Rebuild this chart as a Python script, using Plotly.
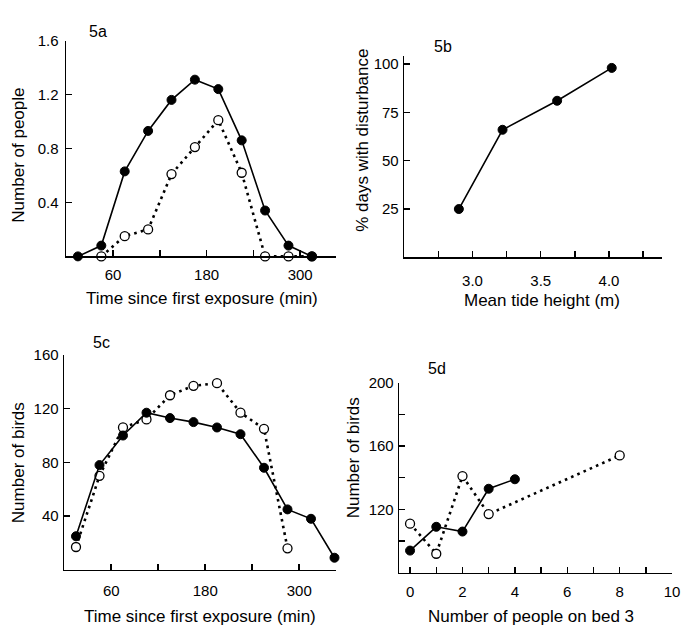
import plotly.graph_objects as go

W, H = 690, 626

# ---- Data ----
# 5a: number of people vs time since first exposure
a_time_filled = [15, 45, 75, 105, 135, 165, 195, 225, 255, 285, 315]
a_people_filled = [0.0, 0.08, 0.63, 0.93, 1.16, 1.31, 1.24, 0.86, 0.34, 0.08, 0.0]
a_time_open = [45, 75, 105, 135, 165, 195, 225, 255, 285, 315]
a_people_open = [0.0, 0.15, 0.20, 0.61, 0.81, 1.01, 0.62, 0.0, 0.0, 0.0]

# 5b: % days with disturbance vs mean tide height
b_tide = [2.90, 3.22, 3.62, 4.02]
b_pct = [25, 66, 81, 98]

# 5c: number of birds vs time since first exposure
c_time_filled = [15, 45, 75, 105, 135, 165, 195, 225, 255, 285, 315, 345]
c_birds_filled = [25, 78, 100, 117, 113, 110, 106, 101, 76, 45, 38, 9]
c_time_open = [15, 45, 75, 105, 135, 165, 195, 225, 255, 285]
c_birds_open = [17, 70, 106, 112, 130, 137, 139, 117, 105, 16]

# 5d: number of birds vs number of people on bed 3
d_people_filled = [0, 1, 2, 3, 4]
d_birds_filled = [94, 109, 106, 133, 139]
d_people_open = [0, 1, 2, 3, 8]
d_birds_open = [111, 92, 141, 117, 154]

# tick definitions
time_ticks = [60, 120, 180, 240, 300]
time_ticklabels = ["60", "", "180", "", "300"]
a_yticks = [0.4, 0.8, 1.2, 1.6]
a_yticklabels = ["0.4", "0.8", "1.2", "1.6"]
b_xticks = [2.75, 3.0, 3.25, 3.5, 3.75, 4.0, 4.25]
b_xticklabels = ["", "3.0", "", "3.5", "", "4.0", ""]
b_yticks = [25, 50, 75, 100]
c_yticks = [40, 80, 120, 160]
d_xticks = [0, 1, 2, 3, 4, 5, 6, 7, 8, 9, 10]
d_xticklabels = ["0", "", "2", "", "4", "", "6", "", "8", "", "10"]
d_yticks = [100, 120, 140, 160, 180, 200]
d_yticklabels = ["", "120", "", "160", "", "200"]

FONT = "Liberation Sans, Arial, Helvetica, sans-serif"
TICK_FS = 15
TITLE_FS = 17
PANEL_FS = 16


def px_dom_x(l, r):
    return [l / W, r / W]


def px_dom_y(top, bottom):
    return [1 - bottom / H, 1 - top / H]


fig = go.Figure()

solid = dict(color="black", width=1.6)
dotted = dict(color="black", width=2.6, dash="2.6px,4.2px")
mfill = dict(symbol="circle", size=9, color="black", line=dict(color="black", width=1))
mopen = dict(symbol="circle", size=9, color="white", line=dict(color="black", width=1.3))


def add_pair(xo, yo, xf, yf, xa, ya):
    if xo is not None:
        fig.add_trace(go.Scatter(x=xo, y=yo, mode="lines+markers", line=dotted,
                                 marker=mopen, xaxis=xa, yaxis=ya, showlegend=False,
                                 cliponaxis=False))
    fig.add_trace(go.Scatter(x=xf, y=yf, mode="lines+markers", line=solid,
                             marker=mfill, xaxis=xa, yaxis=ya, showlegend=False,
                             cliponaxis=False))


add_pair(a_time_open, a_people_open, a_time_filled, a_people_filled, "x", "y")
add_pair(None, None, b_tide, b_pct, "x2", "y2")
add_pair(c_time_open, c_birds_open, c_time_filled, c_birds_filled, "x3", "y3")
add_pair(d_people_open, d_birds_open, d_people_filled, d_birds_filled, "x4", "y4")


def axis(domain, rng, tickvals, ticktext, anchor, standoff):
    return dict(domain=domain, range=rng, tickvals=tickvals, ticktext=ticktext,
                anchor=anchor, showline=True, linecolor="black", linewidth=1.6,
                ticks="inside", ticklen=6, tickwidth=1.5, tickcolor="black",
                showgrid=False, zeroline=False, ticklabelstandoff=standoff,
                tickfont=dict(family=FONT, size=TICK_FS, color="black"), fixedrange=True)


layout = dict(
    width=W, height=H, margin=dict(l=0, r=0, t=0, b=0),
    paper_bgcolor="white", plot_bgcolor="white",
    font=dict(family=FONT, size=TICK_FS, color="black"),
    xaxis=axis(px_dom_x(67, 340), [0, 346], time_ticks, time_ticklabels, "y", 4),
    yaxis=axis(px_dom_y(32, 251), [0, 1.6], a_yticks, a_yticklabels, "x", 3),
    xaxis2=axis(px_dom_x(409, 670), [2.5, 4.39], b_xticks, b_xticklabels, "y2", 9),
    yaxis2=axis(px_dom_y(48, 252), [0, 104], b_yticks, [str(v) for v in b_yticks], "x2", 1),
    xaxis3=axis(px_dom_x(65, 340), [0, 347], time_ticks, time_ticklabels, "y3", 7),
    yaxis3=axis(px_dom_y(351, 569), [0, 160], c_yticks, [str(v) for v in c_yticks], "x3", 1),
    xaxis4=axis(px_dom_x(404, 680), [-0.41, 10], d_xticks, d_xticklabels, "y4", 5),
    yaxis4=axis(px_dom_y(379, 572), [80, 200], d_yticks, d_yticklabels, "x4", 1),
)
fig.update_layout(**layout)


def ann(text, x, y, size, angle=0):
    fig.add_annotation(text=text, x=x / W, y=1 - y / H, xref="paper", yref="paper",
                       showarrow=False, textangle=angle, xanchor="center", yanchor="middle",
                       font=dict(family=FONT, size=size, color="black"))


# panel labels
ann("5a", 99, 23, PANEL_FS)
ann("5b", 448, 38, PANEL_FS)
ann("5c", 103, 338, PANEL_FS)
ann("5d", 442, 365, PANEL_FS)
# axis titles
ann("Number of people", 19, 148, TITLE_FS, -90)
ann("Time since first exposure (min)", 204, 294, TITLE_FS)
ann("% days with disturbance", 366, 133, TITLE_FS, -90)
ann("Mean tide height (m)", 548, 296, TITLE_FS)
ann("Number of birds", 19, 460, TITLE_FS, -90)
ann("Time since first exposure (min)", 202, 616, TITLE_FS)
ann("Number of birds", 358, 455, TITLE_FS, -90)
ann("Number of people on bed 3", 537, 616, TITLE_FS)

fig.write_html("out.html", config={"displayModeBar": False, "staticPlot": True},
               post_script="document.body.style.margin='0px';")
